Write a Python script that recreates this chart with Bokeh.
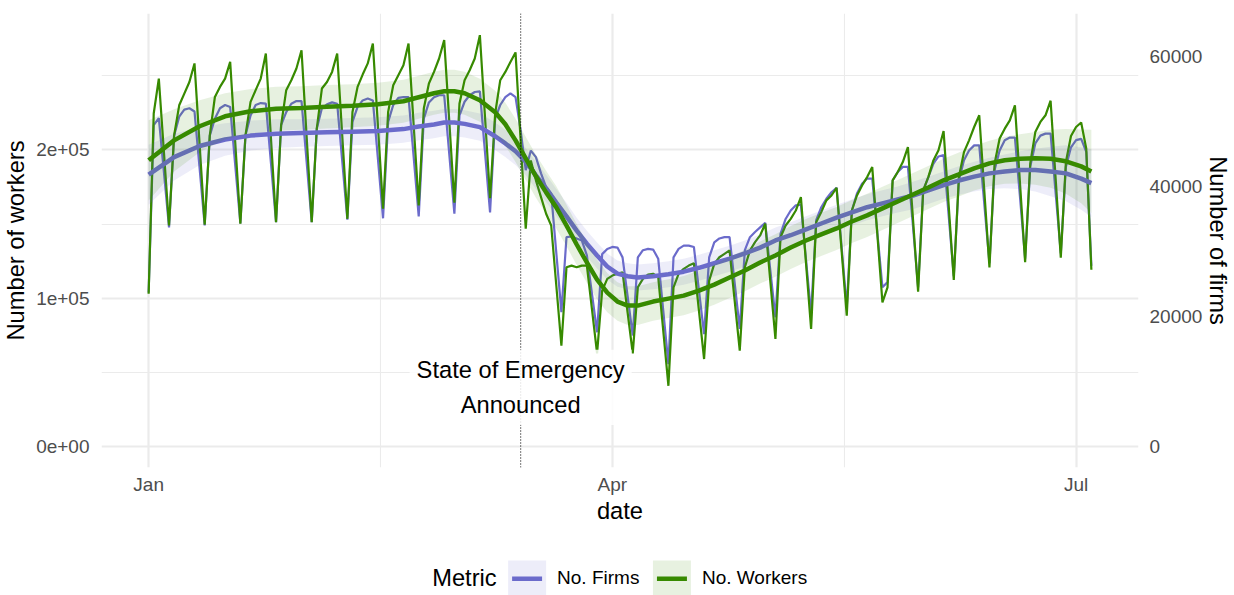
import numpy as np
import pandas as pd
from bokeh.plotting import figure
from bokeh.models import (Range1d, LinearAxis, FixedTicker, Span, Label,
                          NumeralTickFormatter, CustomJSTickFormatter)
from bokeh.layouts import column
from bokeh.embed import file_html
from bokeh.resources import INLINE
from bokeh.core.properties import value

# ---------------- data ----------------
start_date = "2020-01-01"
end_date = "2020-07-04"

# daily number of workers, thousands
workers_k = [
    103.0, 224.5, 247.9, 198.4, 149.0, 209.7, 229.9,
    237.8, 245.6, 258.1, 203.8, 149.5, 209.7, 235.5,
    242.3, 247.9, 259.1, 204.6, 150.2, 209.7, 232.2,
    240.1, 247.9, 264.8, 208.0, 151.2, 216.5, 240.1,
    246.8, 254.7, 267.0, 209.2, 151.2, 214.4, 241.2,
    245.6, 252.4, 264.8, 209.2, 153.5, 225.4, 242.3,
    250.6, 258.1, 271.5, 215.9, 160.3, 225.4, 243.4,
    250.2, 256.9, 271.5, 217.1, 162.5, 227.7, 244.6,
    252.4, 261.4, 273.8, 219.1, 164.3, 231.1, 246.8,
    253.5, 261.4, 277.1, 222.5, 167.4, 224.3, 246.8,
    252.4, 259.1, 265.5, 206.3, 146.8, 192.8, 179.4,
    168.1, 156.9, 149.0, 108.6, 68.1, 120.9, 122.0,
    120.9, 122.0, 122.0, 92.5, 62.9, 105.2, 113.1,
    115.3, 116.5, 117.5, 90.2, 62.9, 107.4, 113.1,
    116.0, 116.5, 114.2, 77.7, 41.1, 107.4, 116.5,
    119.8, 122.0, 123.6, 91.4, 59.1, 111.9, 123.2,
    127.6, 129.9, 132.2, 98.4, 64.7, 120.9, 132.2,
    137.8, 142.3, 150.2, 111.4, 72.6, 141.1, 149.0,
    153.5, 159.1, 168.1, 123.7, 79.4, 151.2, 158.0,
    165.9, 169.2, 174.4, 131.5, 88.3, 159.1, 169.2,
    176.0, 181.6, 188.3, 143.0, 97.3, 107.4, 179.4,
    185.0, 191.7, 201.8, 153.1, 104.5, 172.6, 181.6,
    192.8, 199.6, 212.6, 162.5, 112.3, 181.6, 198.4,
    206.3, 215.3, 223.2, 171.9, 120.7, 190.6, 207.5,
    214.2, 219.8, 229.9, 177.3, 124.3, 190.6, 211.9,
    218.7, 223.2, 233.0, 180.0, 127.4, 191.7, 209.2,
    215.3, 218.3, 200.7, 119.2,
]

# daily number of firms, thousands
firms_k = [
    23.7, 49.4, 50.5, 42.2, 33.7, 47.8, 50.7,
    51.8, 52.0, 51.5, 42.8, 34.0, 47.8, 50.4,
    52.0, 52.5, 52.2, 43.2, 34.3, 47.8, 50.9,
    52.5, 52.8, 52.7, 43.6, 34.5, 49.4, 51.4,
    52.7, 53.1, 53.1, 43.8, 34.5, 48.9, 52.0,
    52.6, 52.9, 52.7, 43.8, 34.9, 49.9, 52.2,
    53.2, 53.5, 53.2, 44.2, 35.1, 49.9, 52.5,
    53.6, 53.7, 53.7, 44.6, 35.4, 50.4, 52.9,
    53.7, 54.0, 54.0, 44.9, 35.8, 50.9, 53.0,
    54.0, 54.5, 54.6, 45.3, 36.0, 50.4, 52.5,
    53.7, 54.3, 53.7, 48.6, 42.5, 45.5, 44.5,
    42.0, 39.9, 38.9, 29.8, 20.7, 32.2, 32.3,
    32.0, 31.7, 29.4, 23.5, 17.6, 29.6, 30.4,
    30.7, 30.6, 29.1, 23.1, 17.1, 29.1, 30.2,
    30.4, 30.3, 28.9, 20.8, 12.7, 29.1, 30.4,
    30.9, 30.9, 30.7, 24.0, 17.3, 29.1, 31.4,
    32.0, 32.2, 32.2, 25.2, 18.1, 30.2, 32.2,
    33.0, 33.7, 34.4, 27.1, 19.9, 32.7, 35.0,
    36.3, 37.1, 37.2, 28.8, 20.4, 34.8, 36.8,
    38.1, 39.1, 39.8, 30.6, 21.4, 36.3, 38.9,
    40.4, 41.2, 41.2, 32.9, 24.5, 25.3, 40.9,
    42.2, 43.0, 43.0, 33.8, 24.5, 39.4, 41.4,
    43.5, 44.6, 44.8, 35.5, 26.2, 40.9, 44.0,
    45.5, 46.3, 46.3, 37.2, 28.2, 42.5, 45.5,
    47.1, 47.5, 47.5, 38.3, 28.9, 43.0, 46.6,
    47.8, 48.1, 48.1, 38.9, 29.7, 43.0, 46.0,
    47.1, 47.3, 45.3, 27.8,
]

# smoothed trend (days after start) with confidence half-widths, thousands
smooth_day = [0, 5, 10, 15, 20, 25, 30, 35, 40, 45,
              50, 53, 56, 58, 60, 62, 65, 68, 70, 72,
              74, 76, 78, 80, 82, 84, 86, 88, 90, 92,
              94, 96, 99, 102, 105, 108, 111, 114, 117, 120,
              123, 126, 129, 132, 135, 138, 141, 144, 147, 150,
              153, 156, 159, 162, 165, 168, 171, 174, 177, 180,
              183, 185]
workers_smooth_k = [192.9, 206.3, 215.8, 222.5, 225.9, 227.6, 228.1, 228.9, 229.6, 230.6,
                    232.6, 235.3, 238.0, 239.4, 239.4, 238.0, 233.3, 225.2, 217.1, 206.3,
                    194.2, 182.1, 171.3, 161.2, 149.0, 136.2, 124.1, 112.6, 103.8, 97.8,
                    95.1, 95.1, 97.8, 99.8, 101.8, 105.2, 109.2, 114.0, 118.7, 124.1,
                    128.8, 134.2, 138.9, 143.0, 147.0, 151.7, 155.8, 160.5, 165.2, 169.9,
                    174.6, 179.4, 183.4, 187.5, 190.8, 192.9, 193.9, 194.2, 193.9, 192.2,
                    188.8, 185.4]
workers_se_k = [27.0, 21.0, 17.5, 15.5, 15.0, 14.8, 14.6, 14.6, 14.5, 14.5,
                14.5, 14.5, 14.5, 14.5, 14.5, 14.5, 14.5, 14.5, 14.5, 14.5,
                14.5, 14.5, 14.5, 14.3, 14.0, 13.8, 13.6, 13.4, 13.2, 13.0,
                13.0, 13.0, 13.0, 13.0, 13.2, 13.4, 13.6, 13.8, 14.0, 14.2,
                14.3, 14.4, 14.5, 14.5, 14.5, 14.5, 14.5, 14.5, 14.5, 14.5,
                14.5, 14.6, 14.8, 15.0, 15.3, 15.8, 16.6, 17.8, 19.5, 21.8,
                24.8, 28.0]
firms_smooth_k = [41.8, 44.5, 46.2, 47.2, 47.8, 48.1, 48.2, 48.3, 48.4, 48.5,
                  48.8, 49.2, 49.5, 49.8, 49.8, 49.6, 49.1, 47.7, 46.6, 45.4,
                  43.8, 41.7, 39.7, 37.5, 35.4, 33.2, 31.2, 29.4, 27.7, 26.6,
                  26.2, 26.0, 26.2, 26.5, 26.9, 27.5, 28.2, 28.9, 29.7, 30.6,
                  31.7, 32.5, 33.4, 34.3, 35.2, 36.0, 36.8, 37.4, 38.0, 38.6,
                  39.4, 40.2, 40.9, 41.5, 42.0, 42.3, 42.5, 42.5, 42.3, 42.0,
                  41.2, 40.5]
firms_se_k = [4.6, 3.6, 2.9, 2.5, 2.3, 2.2, 2.1, 2.1, 2.1, 2.1,
              2.1, 2.1, 2.1, 2.1, 2.1, 2.1, 2.1, 2.1, 2.1, 2.1,
              2.1, 2.1, 2.1, 2.1, 2.1, 2.0, 2.0, 2.0, 2.0, 2.0,
              2.0, 2.0, 2.0, 2.0, 2.0, 2.0, 2.0, 2.0, 2.0, 2.0,
              2.0, 2.0, 2.0, 2.0, 2.0, 2.0, 2.0, 2.0, 2.0, 2.1,
              2.1, 2.1, 2.2, 2.3, 2.4, 2.6, 2.9, 3.3, 3.8, 4.3,
              4.8, 5.2]

series_names = ["No. Firms", "No. Workers"]
legend_title = "Metric"
x_tick_dates = ["2020-01-01", "2020-04-01", "2020-07-01"]
x_tick_labels = ["Jan", "Apr", "Jul"]
x_minor_dates = ["2020-02-15 12:00", "2020-05-16 12:00"]
y_ticks = [0, 100000, 200000]
y_tick_labels = ["0e+00", "1e+05", "2e+05"]
y_minor_ticks = [50000, 150000, 250000]
firm_ticks = [0, 20000, 40000, 60000]
event_date = "2020-03-14"
event_text = "State of Emergency\nAnnounced"

# ---------------- styling ----------------
FONT = "Liberation Sans"
FIRMS_COLOR = "#6B6BCB"
WORKERS_COLOR = "#378A00"
GRID = "#EBEBEB"
TICK_TXT = "#4D4D4D"
RATIO = 4.383          # secondary axis: firms = workers / RATIO
W = 1234
B_LEFT, B_RIGHT = 101, 95
FRAME_L, FRAME_R = B_LEFT, W - B_RIGHT


def ms(s):
    return pd.Timestamp(s).value / 1e6


dates = pd.date_range(start_date, end_date, freq="D")
workers = np.array(workers_k) * 1000
firms = np.array(firms_k) * 1000
sm_dates = pd.Timestamp(start_date) + pd.to_timedelta(smooth_day, unit="D")
w_s = np.array(workers_smooth_k) * 1000
w_se = np.array(workers_se_k) * 1000
f_s = np.array(firms_smooth_k) * 1000
f_se = np.array(firms_se_k) * 1000

y_lo, y_hi = -13900, 291700
x_lo = ms(start_date) - 9.25 * 86400000
x_hi = ms(end_date) + 9.25 * 86400000

p = figure(width=W, height=545, x_axis_type="datetime",
           x_range=Range1d(x_lo, x_hi), y_range=Range1d(y_lo, y_hi),
           output_backend="svg", toolbar_location=None,
           min_border_left=B_LEFT, min_border_right=B_RIGHT, min_border_top=13,
           min_border_bottom=78)
p.extra_y_ranges = {"firms": Range1d(y_lo / RATIO, y_hi / RATIO)}
p.outline_line_color = None
p.background_fill_color = "white"
p.border_fill_color = "white"

# raw daily series
p.line(dates, firms, y_range_name="firms", line_color=FIRMS_COLOR, line_width=2.2)
p.line(dates, workers, line_color=WORKERS_COLOR, line_width=2.2)

# smoothed trends with bands
p.varea(x=sm_dates, y1=f_s - f_se, y2=f_s + f_se, y_range_name="firms",
        fill_color=FIRMS_COLOR, fill_alpha=0.12)
p.line(sm_dates, f_s, y_range_name="firms", line_color=FIRMS_COLOR, line_width=4.5)
p.varea(x=sm_dates, y1=w_s - w_se, y2=w_s + w_se,
        fill_color=WORKERS_COLOR, fill_alpha=0.12)
p.line(sm_dates, w_s, line_color=WORKERS_COLOR, line_width=4.5)

# event marker
p.add_layout(Span(location=ms(event_date), dimension="height", line_color="black",
                  line_dash="1 2", line_width=1.2, line_alpha=0.9))
lbl = Label(x=ms(event_date), y=40000, text=event_text, text_align="center",
            text_baseline="middle", text_font=FONT, text_font_size="23.7px",
            text_color="black", text_line_height=1.36,
            background_fill_color="white", background_fill_alpha=0.85)
if "padding" in Label.properties():
    lbl.padding = 7
p.add_layout(lbl)

# axes
xt = FixedTicker(ticks=[ms(d) for d in x_tick_dates],
                 minor_ticks=[ms(d) for d in x_minor_dates])
p.xaxis.ticker = xt
p.xgrid.ticker = xt
p.xaxis.formatter = CustomJSTickFormatter(
    args=dict(tvals=[ms(d) for d in x_tick_dates], tlabs=x_tick_labels),
    code="const i = tvals.indexOf(tick); return i >= 0 ? tlabs[i] : '';")
p.xaxis.axis_label = "date"

yt = FixedTicker(ticks=y_ticks, minor_ticks=y_minor_ticks)
p.yaxis.ticker = yt
p.ygrid.ticker = yt
p.yaxis.formatter = CustomJSTickFormatter(
    args=dict(tvals=y_ticks, tlabs=y_tick_labels),
    code="const i = tvals.indexOf(tick); return i >= 0 ? tlabs[i] : '';")
p.yaxis.axis_label = "Number of workers"

right = LinearAxis(y_range_name="firms", ticker=FixedTicker(ticks=firm_ticks),
                   formatter=NumeralTickFormatter(format="0"),
                   axis_label="Number of firms")
p.add_layout(right, "right")

for ax in p.axis:
    ax.axis_line_color = None
    ax.major_tick_line_color = None
    ax.minor_tick_line_color = None
    ax.major_tick_out = 0
    ax.major_tick_in = 0
    ax.major_label_text_font = FONT
    ax.major_label_text_font_size = "19px"
    ax.major_label_text_color = TICK_TXT
    ax.axis_label_text_font = FONT
    ax.axis_label_text_font_size = "23.7px"
    ax.axis_label_text_font_style = "normal"
    ax.axis_label_text_color = "black"

p.xaxis.major_label_standoff = 2
p.xaxis.axis_label_standoff = 0
p.yaxis.major_label_standoff = 8
p.yaxis.axis_label_standoff = 4
right.major_label_standoff = 11
right.axis_label_standoff = 0

for g in (p.xgrid, p.ygrid):
    g.grid_line_color = GRID
    g.grid_line_width = 2.2
    g.minor_grid_line_color = GRID
    g.minor_grid_line_width = 1.1

# ---------------- legend (own strip; x in page pixels) ----------------
leg = figure(width=W, height=50, x_range=Range1d(FRAME_L, FRAME_R), y_range=Range1d(0, 50),
             x_axis_type=None, y_axis_type=None, output_backend="svg",
             toolbar_location=None, min_border_left=B_LEFT, min_border_right=B_RIGHT,
             min_border_top=0, min_border_bottom=0)
leg.outline_line_color = None
leg.grid.visible = False
leg.background_fill_color = "white"
leg.text(x=[432], y=[18], text=[legend_title], text_font=value(FONT),
         text_font_size="23.7px", text_baseline="middle", text_color="black")
key_left = [508, 653]
key_colors = [FIRMS_COLOR, WORKERS_COLOR]
leg.quad(left=key_left, right=[k + 38 for k in key_left], bottom=[0, 0], top=[35, 35],
         fill_color=key_colors, fill_alpha=0.12, line_color=None)
leg.segment(x0=[k + 4 for k in key_left], x1=[k + 34 for k in key_left],
            y0=[16.7, 16.7], y1=[16.7, 16.7], line_color=key_colors, line_width=4.5)
leg.text(x=[k + 49 for k in key_left], y=[18, 18], text=series_names,
         text_font=value(FONT), text_font_size="19px", text_baseline="middle",
         text_color="black")

layout = column(p, leg, spacing=0)
open("out.html", "w").write(file_html(layout, INLINE))
